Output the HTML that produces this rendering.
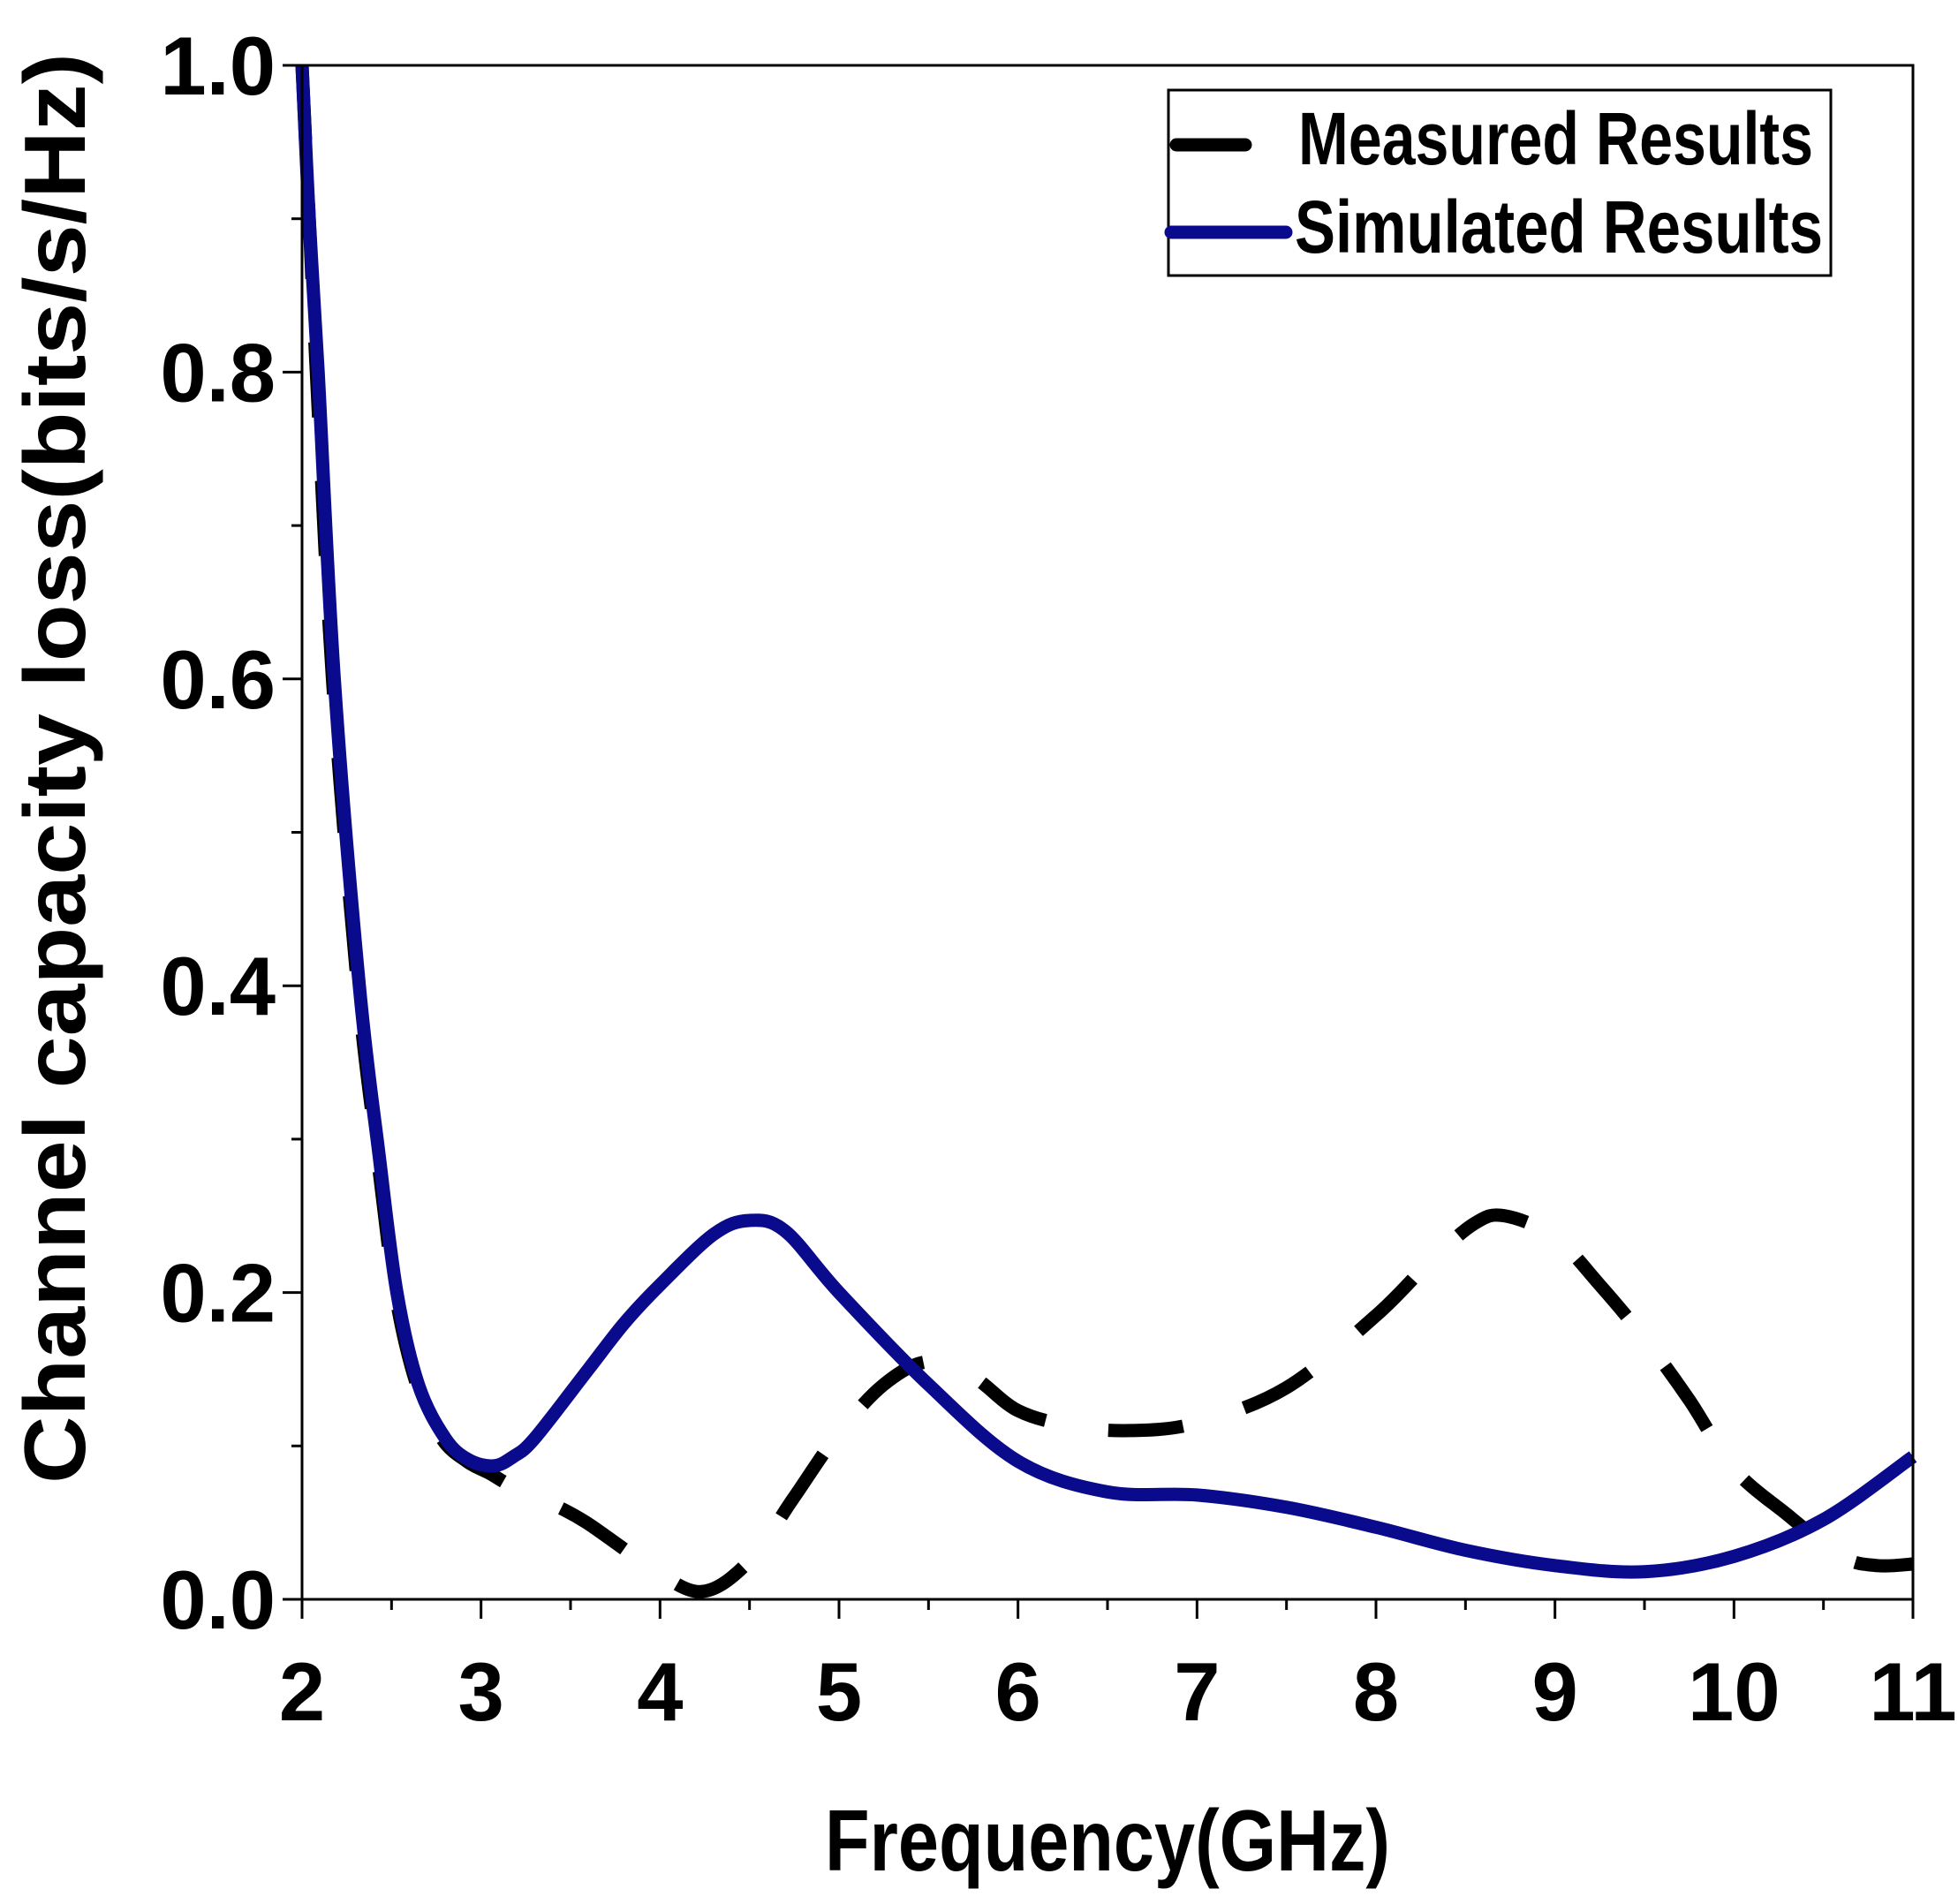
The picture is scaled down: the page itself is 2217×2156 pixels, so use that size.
<!DOCTYPE html>
<html><head><meta charset="utf-8"><style>
html,body{margin:0;padding:0;background:#fff;}
svg{display:block;}
text{font-family:"Liberation Sans",Arial,sans-serif;font-weight:bold;fill:#000;}
</style></head><body>
<svg id="chart" width="2217" height="2156" viewBox="0 0 2217 2156" xmlns="http://www.w3.org/2000/svg">
<rect width="2217" height="2156" fill="#fff"/>
<g id="plot"></g>
<g id="axes"></g>
<text x="1254" y="2118" font-size="98" text-anchor="middle" textLength="640" lengthAdjust="spacingAndGlyphs">Frequency(GHz)</text>
<text transform="translate(96,870) rotate(-90)" font-size="98" text-anchor="middle" textLength="1620" lengthAdjust="spacingAndGlyphs">Channel capacity loss(bits/s/Hz)</text>
<g>
<rect x="1323" y="102" width="750" height="210" fill="#fff" stroke="#000" stroke-width="3"/>
<line x1="1332" y1="164" x2="1410" y2="164" stroke="#000" stroke-width="15" stroke-linecap="round"/>
<text x="1470" y="186" font-size="84" textLength="583" lengthAdjust="spacingAndGlyphs">Measured Results</text>
<line x1="1326" y1="263" x2="1456" y2="263" stroke="#0a0a8c" stroke-width="15" stroke-linecap="round"/>
<text x="1466" y="286" font-size="84" textLength="598" lengthAdjust="spacingAndGlyphs">Simulated Results</text>
</g>
</svg>
<script>
const xTicks=[2,3,4,5,6,7,8,9,10,11];
const yTicks=[0.0,0.2,0.4,0.6,0.8,1.0];
const yTickLabels=["0.0","0.2","0.4","0.6","0.8","1.0"];
const simX=[2,2.04,2.09,2.18,2.32,2.43,2.53,2.65,2.8,2.93,3.07,3.18,3.3,3.6,3.8,4.0,4.3,4.5,4.7,5.0,5.5,6.0,6.5,7.0,7.5,8.0,8.5,9.0,9.5,10.0,10.5,11.0];
const simY=[1.0,0.9,0.8,0.6,0.4,0.29,0.2,0.14,0.105,0.091,0.087,0.093,0.105,0.15,0.18,0.205,0.238,0.247,0.24,0.2,0.14,0.09,0.07,0.068,0.06,0.047,0.032,0.022,0.018,0.028,0.052,0.093];
const measX=[2,2.04,2.08,2.17,2.31,2.42,2.52,2.64,2.78,2.92,3.05,3.17,3.4,3.59,3.9,4.22,4.5,4.74,4.99,5.25,5.5,5.75,6.0,6.3,6.62,7.0,7.5,8.0,8.3,8.55,8.72,9.0,9.25,9.5,9.75,10.0,10.3,10.6,10.8,11.0];
const measY=[1.0,0.9,0.8,0.6,0.4,0.29,0.2,0.14,0.105,0.09,0.082,0.074,0.062,0.05,0.025,0.005,0.025,0.065,0.107,0.14,0.155,0.145,0.123,0.113,0.11,0.115,0.138,0.185,0.22,0.245,0.25,0.236,0.205,0.17,0.13,0.085,0.055,0.028,0.022,0.023];

const L=342,R=2166,T=74,B=1811;
function sx(v){return L+(v-2)/9*(R-L);}
function sy(v){return B-v*(B-T);}
const NS="http://www.w3.org/2000/svg";
function mk(tag,attrs,parent){const e=document.createElementNS(NS,tag);for(const k in attrs)e.setAttribute(k,attrs[k]);parent.appendChild(e);return e;}
function spline(xs,ys){
  const p=xs.map((x,i)=>[sx(x),sy(ys[i])]);
  let d="M"+p[0][0]+","+p[0][1];
  for(let i=0;i<p.length-1;i++){
    const p0=p[i-1]||p[i],p1=p[i],p2=p[i+1],p3=p[i+2]||p2;
    const c1=[p1[0]+(p2[0]-p0[0])/6,p1[1]+(p2[1]-p0[1])/6];
    const c2=[p2[0]-(p3[0]-p1[0])/6,p2[1]-(p3[1]-p1[1])/6];
    d+=" C"+c1[0]+","+c1[1]+" "+c2[0]+","+c2[1]+" "+p2[0]+","+p2[1];
  }
  return d;
}
const plot=document.getElementById('plot');
const axes=document.getElementById('axes');
const meas=mk('path',{d:spline(measX,measY),fill:"none",stroke:"#000","stroke-width":15,"stroke-dasharray":"85 72"},plot);


const sim=mk('path',{d:spline(simX,simY),fill:"none",stroke:"#0a0a8c","stroke-width":15},plot);


const frame=mk('rect',{x:L,y:T,width:R-L,height:B-T,fill:"none",stroke:"#000","stroke-width":3},axes);


xTicks.forEach((v,i)=>{
  const t=mk('line',{x1:sx(v),x2:sx(v),y1:B,y2:B+22,stroke:"#000","stroke-width":3},axes);
  
  
  if(i<xTicks.length-1){
    const m=mk('line',{x1:sx(v+0.5),x2:sx(v+0.5),y1:B,y2:B+12,stroke:"#000","stroke-width":3},axes);
    
    
  }
  const lb=mk('text',{x:sx(v),y:1948,"font-size":94,"text-anchor":"middle"},axes);
  lb.textContent=String(v);
  
  
});
yTicks.forEach((v,i)=>{
  const t=mk('line',{x1:L-22,x2:L,y1:sy(v),y2:sy(v),stroke:"#000","stroke-width":3},axes);
  
  
  if(i<yTicks.length-1){
    const m=mk('line',{x1:L-12,x2:L,y1:sy(v+0.1),y2:sy(v+0.1),stroke:"#000","stroke-width":3},axes);
    
    
  }
  const lb=mk('text',{x:L-30,y:sy(v)+33,"font-size":94,"text-anchor":"end"},axes);
  lb.textContent=yTickLabels[i];
  
  
});
</script>
</body></html>
